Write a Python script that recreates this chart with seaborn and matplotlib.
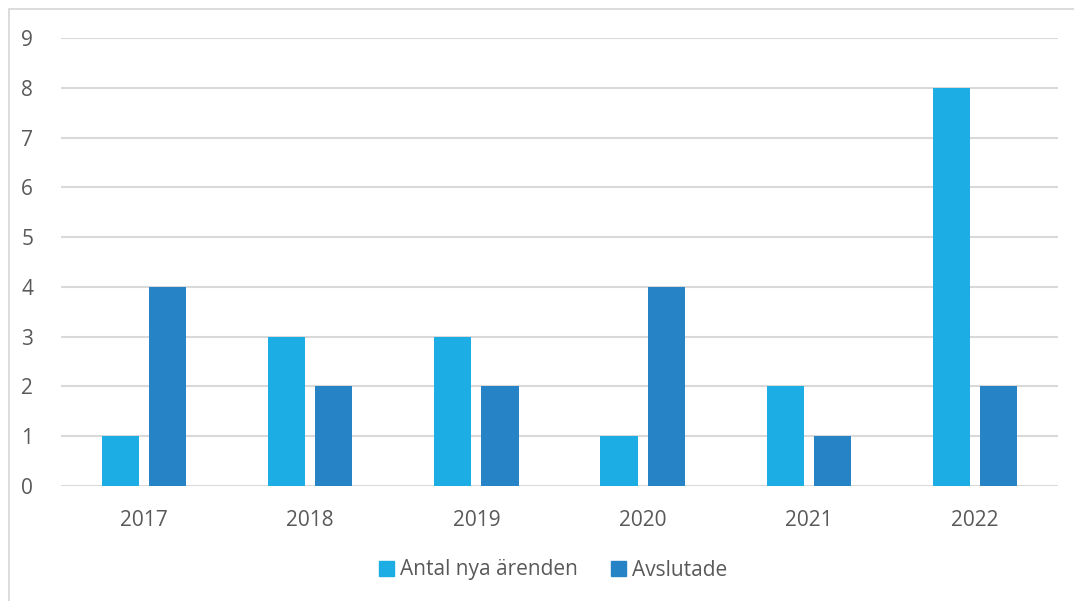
import matplotlib
matplotlib.use("Agg")
import matplotlib.pyplot as plt
from matplotlib.patches import Rectangle
import numpy as np
import pandas as pd
import seaborn as sns

years = ["2017", "2018", "2019", "2020", "2021", "2022"]
nya = [1, 3, 3, 1, 2, 8]
avslutade = [4, 2, 2, 4, 1, 2]
series_names = ["Antal nya ärenden", "Avslutade"]
colors = ["#1CADE4", "#2683C6"]
text_col = "#595959"

df = pd.DataFrame({
    "year": years * 2,
    "value": nya + avslutade,
    "serie": [series_names[0]] * len(years) + [series_names[1]] * len(years),
})

sns.set_style("white")
plt.rcParams["font.family"] = ["Open Sans", "DejaVu Sans"]

fig = plt.figure(figsize=(10.74, 6.01), dpi=100)
ax = fig.add_axes([61 / 1074, 115 / 601, 997 / 1074, 448 / 601])

# outer chart frame (light gray)
fig.patches.append(Rectangle((9 / 1074, -0.1), 1.2, (601 - 9) / 601 + 0.1,
                             transform=fig.transFigure, fill=False,
                             edgecolor="#D9D9D9", linewidth=1.3))

sns.barplot(data=df, x="year", y="value", hue="serie", palette=colors,
            width=0.566, gap=0.21, ax=ax, legend=False, saturation=1,
            linewidth=0, zorder=3)

ax.set_xlim(-0.5, 5.5)
ax.set_ylim(0, 9)
ax.set_yticks(range(0, 10))
ax.yaxis.grid(True, color="#D9D9D9", linewidth=1.5, zorder=0)
for s in ax.spines.values():
    s.set_visible(False)
ax.tick_params(axis="both", length=0, labelsize=15, colors=text_col)
ax.tick_params(axis="y", pad=20)
ax.tick_params(axis="x", pad=17)
ax.set_xlabel("")
ax.set_ylabel("")

handles = [Rectangle((0, 0), 1, 1, color=c) for c in colors]
fig.legend(handles, series_names, loc="center", bbox_to_anchor=(553 / 1074, 1 - 570 / 601),
           ncol=2, frameon=False, fontsize=15, labelcolor=text_col,
           handlelength=0.7, handleheight=0.7, handletextpad=0.3, columnspacing=1.6)

fig.savefig("out.png", dpi=100)
